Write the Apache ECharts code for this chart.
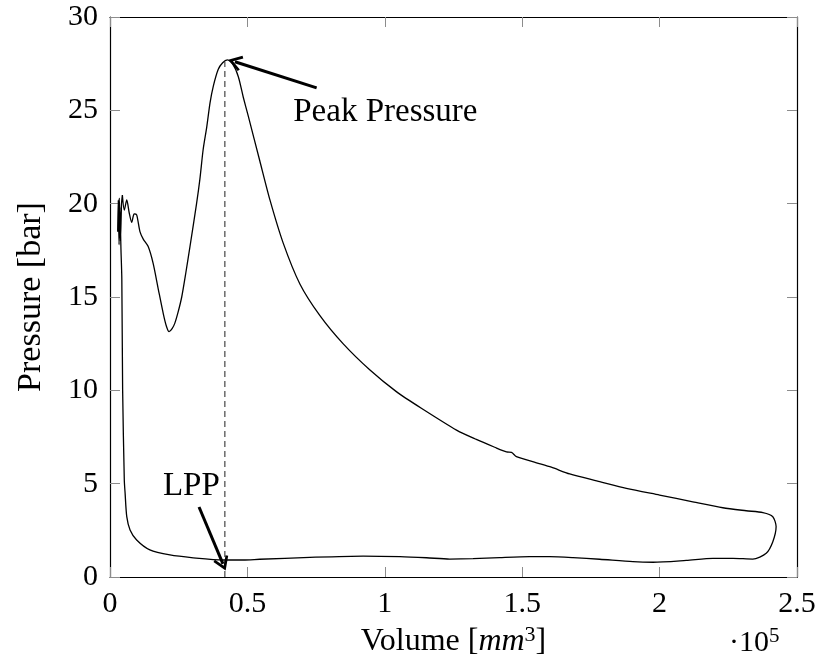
<!DOCTYPE html>
<html>
<head>
<meta charset="utf-8">
<script src="https://cdn.jsdelivr.net/npm/echarts@6/dist/echarts.min.js"></script>
<style>
html,body{margin:0;padding:0;background:#fff;}
#main{width:819px;height:667px;}
</style>
</head>
<body>
<div id="main"></div>
<script>
// Volume (x 1e5 mm^3) along the closed p-V loop
const loopV = [
  0.045,0.052,0.061,0.070,0.079,0.088,0.097,0.109,0.121,0.139,0.157,0.176,0.194,0.205,0.215,0.226,0.236,0.248,0.261,0.276,0.291,
  0.315,0.327,0.339,0.352,0.364,0.376,0.394,0.410,0.427,0.446,0.467,0.485,0.503,0.545,0.582,0.630,0.691,0.764,0.848,0.945,
  1.042,1.133,1.261,1.333,1.400,1.443,1.461,1.479,1.552,1.606,1.673,1.782,1.879,2.000,2.121,2.230,2.315,2.376,2.412,2.424,
  2.412,2.388,2.339,2.267,2.194,2.097,1.976,1.903,1.782,1.685,1.600,1.527,1.418,1.321,1.236,1.152,1.055,0.921,0.727,0.545,
  0.485,0.412,0.303,0.218,0.145,0.097,0.073,0.061,0.055,0.052,0.046,0.043,
  0.040,0.036,0.033,0.030,0.028,0.034,0.038,0.042,0.045
];
// Pressure (bar) along the same loop
const loopP = [
  20.46,19.66,20.2,19.5,19.0,19.45,19.4,18.5,18.1,17.7,16.8,15.4,14.1,13.45,13.14,13.3,13.6,14.2,15.0,16.3,17.7,
  20.0,21.3,22.9,24.1,25.4,26.3,27.2,27.55,27.7,27.5,26.8,25.7,24.7,22.3,20.2,17.9,15.7,14.0,12.5,11.1,
  9.93,9.04,7.87,7.37,6.95,6.70,6.68,6.45,6.12,5.88,5.52,5.11,4.75,4.39,4.03,3.71,3.55,3.45,3.23,2.70,
  1.89,1.27,0.96,1.00,1.00,0.89,0.79,0.82,0.95,1.04,1.09,1.09,1.04,0.98,0.96,1.03,1.09,1.12,1.05,0.95,
  0.91,0.91,1.03,1.18,1.45,1.98,2.52,3.23,4.48,5.2,10.0,16.0,
  17.5,19.8,17.8,20.2,18.5,20.3,18.0,20.0,20.46
];
// dashed marker line at the peak volume
const peakLineV = [0.418, 0.418];
const peakLineP = [0, 27.6];
// annotation arrows: [tailV, tailP, headV, headP]
const peakArrow = [0.752, 26.2, 0.4545, 27.6];
const lppArrow = [0.324, 3.75, 0.411, 0.70];
// annotation texts
const noteNames = ['Peak Pressure', 'LPP'];
const noteV = [1.002, 0.296];
const noteP = [24.9, 4.87];
// axis ticks
const xTicks = [0, 0.5, 1, 1.5, 2, 2.5];
const yTicks = [0, 5, 10, 15, 20, 25, 30];

const FONT = '"Liberation Serif", "Times New Roman", serif';
const loopData = loopV.map((v, i) => [v, loopP[i]]);
const peakLineData = peakLineV.map((v, i) => [v, peakLineP[i]]);
const noteData = noteNames.map((n, i) => [noteV[i], noteP[i], n]);
const arrowHead = 'path://M5,0 L10,8 L8.6,9 L5,3.2 L1.4,9 L0,8 Z';

const chart = echarts.init(document.getElementById('main'), null, {renderer: 'canvas'});
const tickStyle = {show: true, inside: true, length: 10, lineStyle: {color: '#8c8c8c', width: 1}};
const lineAx = {show: true, onZero: false, lineStyle: {color: '#000', width: 1.2}};
chart.setOption({
  animation: false,
  backgroundColor: '#fff',
  grid: {left: 110, right: 22, top: 17, bottom: 90, containLabel: false, outerBoundsMode: 'none'},
  xAxis: [{
    type: 'value', min: xTicks[0], max: xTicks[xTicks.length - 1], interval: 0.5, position: 'bottom',
    axisLine: lineAx, axisTick: tickStyle, splitLine: {show: false},
    axisLabel: {fontFamily: FONT, fontSize: 30, color: '#000', margin: 12,
      formatter: v => String(v)},
    name: '{t|Volume [}{i|mm}{s|3}{t|]}', nameLocation: 'middle', nameGap: 46,
    nameTextStyle: {fontFamily: FONT, fontSize: 32, color: '#000',
      rich: {t: {fontFamily: FONT, fontSize: 32, color: '#000'},
             i: {fontFamily: FONT, fontSize: 32, fontStyle: 'italic', color: '#000'},
             s: {fontFamily: FONT, fontSize: 22, color: '#000', verticalAlign: 'top', padding: [0, 0, 14, 0]}}}
  }, {
    type: 'value', min: xTicks[0], max: xTicks[xTicks.length - 1], interval: 0.5, position: 'top',
    axisLine: lineAx, axisTick: tickStyle, axisLabel: {show: false}, splitLine: {show: false}
  }],
  yAxis: [{
    type: 'value', min: yTicks[0], max: yTicks[yTicks.length - 1], interval: 5, position: 'left',
    axisLine: lineAx, axisTick: tickStyle, splitLine: {show: false},
    axisLabel: {fontFamily: FONT, fontSize: 30, color: '#000', margin: 12},
    name: 'Pressure [bar]', nameLocation: 'middle', nameGap: 62,
    nameTextStyle: {fontFamily: FONT, fontSize: 34, color: '#000'}
  }, {
    type: 'value', min: yTicks[0], max: yTicks[yTicks.length - 1], interval: 5, position: 'right',
    axisLine: lineAx, axisTick: tickStyle, axisLabel: {show: false}, splitLine: {show: false}
  }],
  graphic: [{
    type: 'text', left: 729, top: 626,
    style: {text: '{a|·10}{b|5}', fontFamily: FONT, fontSize: 30, fill: '#000',
      rich: {a: {fontFamily: FONT, fontSize: 30}, b: {fontFamily: FONT, fontSize: 21, verticalAlign: 'top', padding: [0, 0, 14, 0]}}}
  }],
  series: [{
    type: 'line', data: loopData, showSymbol: false, symbol: 'none', smooth: 0.25,
    lineStyle: {color: '#000', width: 1.3}, silent: true
  }, {
    type: 'line', data: peakLineData, showSymbol: false, symbol: 'none',
    lineStyle: {color: '#333', width: 1.1, type: [6, 4]}, silent: true,
    markLine: {
      silent: true, symbol: ['none', arrowHead], symbolSize: [16, 14],
      label: {show: false}, lineStyle: {color: '#000', width: 3, type: 'solid'},
      data: [
        [{coord: [peakArrow[0], peakArrow[1]]}, {coord: [peakArrow[2], peakArrow[3]]}],
        [{coord: [lppArrow[0], lppArrow[1]]}, {coord: [lppArrow[2], lppArrow[3]]}]
      ]
    }
  }, {
    type: 'scatter', data: noteData, symbolSize: 0, silent: true,
    itemStyle: {color: '#000', opacity: 1},
    label: {show: true, position: 'inside', formatter: p => p.value[2], opacity: 1,
      fontFamily: FONT, fontSize: 33, color: '#000', textBorderWidth: 0, textBorderColor: 'transparent'}
  }]
});
</script>
</body>
</html>
